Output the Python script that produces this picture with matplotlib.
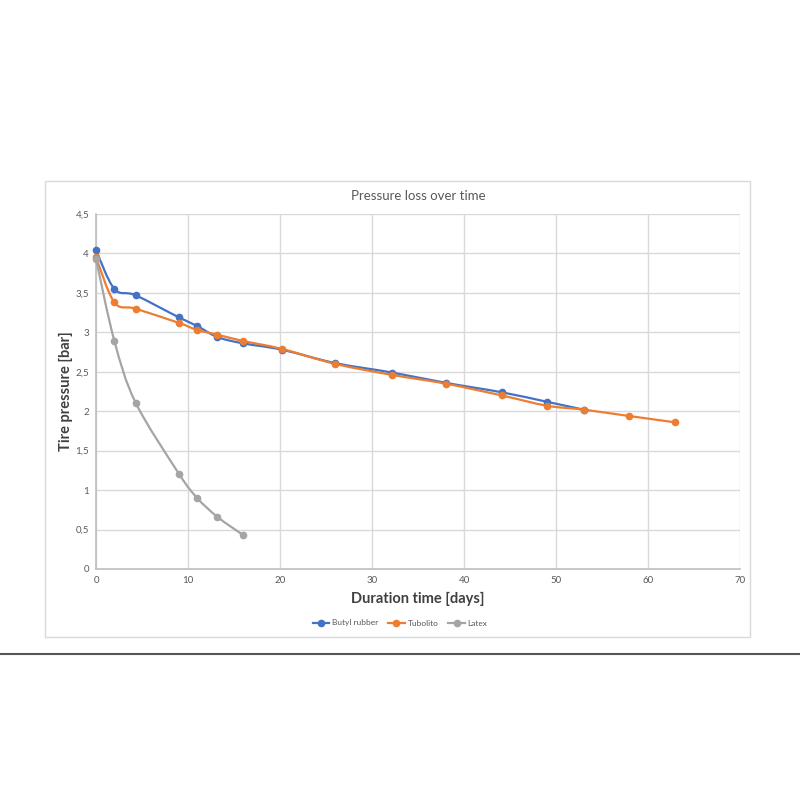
import numpy as np
import matplotlib.pyplot as plt
from matplotlib.path import Path
from matplotlib.patches import PathPatch, Rectangle
from matplotlib.lines import Line2D
from matplotlib.ticker import FuncFormatter

plt.rcParams['font.family'] = ['Lato', 'DejaVu Sans']

# Daten
butyl_days = [0, 2, 4.3, 9, 11, 13.2, 16, 20.2, 26, 32.2, 38, 44.1, 49, 53]
butyl_bar = [4.04, 3.55, 3.47, 3.19, 3.08, 2.94, 2.86, 2.78, 2.61, 2.49, 2.36, 2.24, 2.12, 2.02]

tubo_days = [0, 2, 4.3, 9, 11, 13.2, 16, 20.2, 26, 32.2, 38, 44.1, 49, 53, 57.9, 62.9]
tubo_bar = [3.95, 3.38, 3.30, 3.12, 3.03, 2.97, 2.89, 2.79, 2.60, 2.46, 2.35, 2.20, 2.07, 2.02, 1.94, 1.86]

latex_days = [0, 2, 4.3, 9, 11, 13.2, 16]
latex_bar = [3.93, 2.89, 2.11, 1.21, 0.90, 0.66, 0.43]

series = [('Butyl rubber', butyl_days, butyl_bar, '#4472C4'),
          ('Tubolito', tubo_days, tubo_bar, '#ED7D31'),
          ('Latex', latex_days, latex_bar, '#A5A5A5')]


def smooth_path(xs, ys):
    # geglaettete Linie wie in Excel (Bezier durch die Punkte)
    p = np.column_stack([xs, ys])
    verts = [p[0]]
    codes = [Path.MOVETO]
    n = len(p)
    for i in range(n - 1):
        p0 = p[i - 1] if i > 0 else p[i]
        p3 = p[i + 2] if i + 2 < n else p[i + 1]
        c1 = p[i] + (p[i + 1] - p0) / 6
        c2 = p[i + 1] - (p3 - p[i]) / 6
        verts += [c1, c2, p[i + 1]]
        codes += [Path.CURVE4] * 3
    return Path(verts, codes)


fig = plt.figure(figsize=(8, 8), dpi=100)
fig.patches.append(Rectangle((45 / 800, 1 - 637 / 800), 705 / 800, 456 / 800,
                             transform=fig.transFigure, facecolor='none',
                             edgecolor='#D9D9D9', lw=1, zorder=0))
fig.add_artist(Line2D([0, 1], [1 - 654 / 800] * 2, transform=fig.transFigure,
                      color='#555555', lw=1.5))

ax = fig.add_axes([0.12, 0.28875, 0.805, 0.44375])

handles = []
for name, xs, ys, col in series:
    ax.add_patch(PathPatch(smooth_path(xs, ys), facecolor='none', edgecolor=col,
                           lw=1.6, zorder=3, clip_on=False))
    ax.plot(xs, ys, linestyle='none', marker='o', markersize=4.5, color=col,
            zorder=4, clip_on=False)
    handles.append(Line2D([], [], color=col, lw=1.6, marker='o', markersize=4.5))

ax.set_xlim(0, 70)
ax.set_ylim(0, 4.5)
ax.set_xticks(np.arange(0, 71, 10))
ax.set_yticks(np.arange(0, 4.51, 0.5))
ax.yaxis.set_major_formatter(FuncFormatter(lambda v, pos: ('%g' % v).replace('.', ',')))
ax.grid(True, color='#D9D9D9', lw=1)
ax.set_axisbelow(True)
for s in ['top', 'right']:
    ax.spines[s].set_visible(False)
for s in ['left', 'bottom']:
    ax.spines[s].set_color('#BFBFBF')
    ax.spines[s].set_linewidth(1.2)
ax.tick_params(length=0, labelsize=7, labelcolor='#595959', pad=5)

ax.set_title('Pressure loss over time', fontsize=9.5, color='#595959', pad=10)
ax.set_xlabel('Duration time [days]', fontsize=10.5, fontweight='bold', color='#404040', labelpad=5)
ax.set_ylabel('Tire pressure [bar]', fontsize=10.5, fontweight='bold', color='#404040', labelpad=2)

fig.legend(handles, [s[0] for s in series], loc='center', bbox_to_anchor=(0.5, 1 - 623 / 800),
           ncol=3, frameon=False, fontsize=6, labelcolor='#595959',
           handlelength=2, handletextpad=0.3, columnspacing=1.2)

plt.savefig('out.png', dpi=100, facecolor='white')
